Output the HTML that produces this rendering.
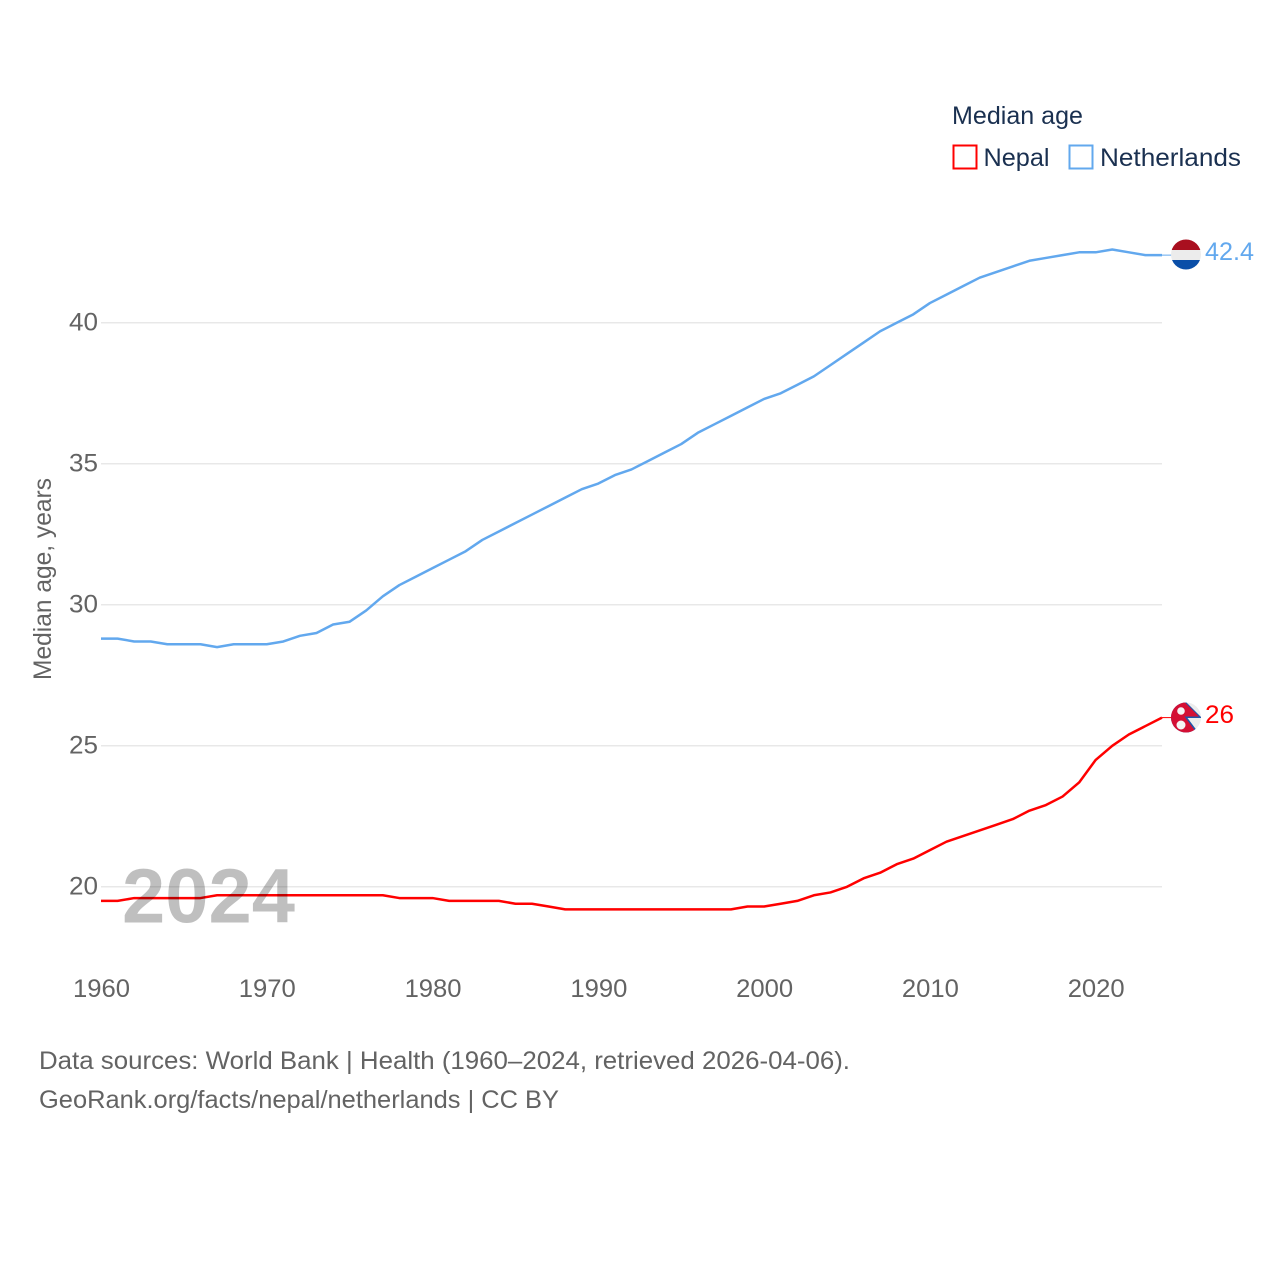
<!DOCTYPE html>
<html lang="en">
<head>
<meta charset="utf-8">
<title>Median age: Nepal and Netherlands</title>
<style>
html,body{margin:0;padding:0;background:#fff;width:1280px;height:1280px;overflow:hidden}
svg{display:block}
text{font-family:"Liberation Sans",sans-serif}
</style>
</head>
<body>
<svg id="chart" width="1280" height="1280" viewBox="0 0 1280 1280" xmlns="http://www.w3.org/2000/svg">
  <defs>
    <clipPath id="clip-nl"><circle cx="1186" cy="254.5" r="15"/></clipPath>
    <clipPath id="clip-np"><circle cx="1186" cy="717.5" r="15"/></clipPath>
  </defs>
  <g id="grid"></g>
  <g id="yticks"></g>
  <g id="xticks"></g>
  <text transform="translate(51,680) rotate(-90)" font-size="25" fill="#636363" textLength="202" lengthAdjust="spacingAndGlyphs">Median age, years</text>

  <g id="lines"></g>

  <text x="122" y="922.500" font-size="77" font-weight="700" fill="#000" fill-opacity="0.25" textLength="173" lengthAdjust="spacingAndGlyphs">2024</text>

  <g clip-path="url(#clip-nl)">
    <rect x="1171" y="239" width="30" height="11" fill="#a90f1f"/>
    <rect x="1171" y="250" width="30" height="10" fill="#ececec"/>
    <rect x="1171" y="260" width="30" height="10" fill="#0a4ea8"/>
  </g>
  <g clip-path="url(#clip-np)">
    <rect x="1171" y="702" width="30" height="31" fill="#ececec"/>
    <path d="M1168 701 L1185 701 L1202 718 L1187.500 718 L1199.500 734 L1168 734 Z" fill="#1f55a8"/>
    <path d="M1168 701 L1183.500 701 L1199 716.500 L1184.500 716.500 L1197.500 734 L1168 734 Z" fill="#d40f34"/>
    <circle cx="1181" cy="711" r="3.800" fill="#f4f4f4"/>
    <circle cx="1181" cy="725" r="4.500" fill="#f4f4f4"/>
  </g>

  <text x="1205" y="260" font-size="25" fill="#62a8ee" textLength="49" lengthAdjust="spacingAndGlyphs">42.4</text>
  <text x="1205" y="723" font-size="25" fill="#ff0000" textLength="29" lengthAdjust="spacingAndGlyphs">26</text>

  <g>
    <text x="952" y="124" font-size="25" fill="#1a3050" textLength="131" lengthAdjust="spacingAndGlyphs">Median age</text>
    <rect x="953.500" y="145.500" width="23" height="23" fill="#fff" stroke="#ff0000" stroke-width="2"/>
    <text x="983.500" y="166" font-size="25" fill="#1a3050" textLength="66" lengthAdjust="spacingAndGlyphs">Nepal</text>
    <rect x="1069.500" y="145.500" width="23" height="23" fill="#fff" stroke="#62a8ee" stroke-width="2"/>
    <text x="1100" y="166" font-size="25" fill="#1a3050" textLength="141" lengthAdjust="spacingAndGlyphs">Netherlands</text>
  </g>

  <text x="39" y="1069" font-size="25" fill="#636363" textLength="811" lengthAdjust="spacingAndGlyphs">Data sources: World Bank | Health (1960–2024, retrieved 2026-04-06).</text>
  <text x="39" y="1108" font-size="25" fill="#636363" textLength="520" lengthAdjust="spacingAndGlyphs">GeoRank.org/facts/nepal/netherlands | CC BY</text>
</svg>
<script>
const years = [1960,1961,1962,1963,1964,1965,1966,1967,1968,1969,1970,1971,1972,1973,1974,1975,1976,1977,1978,1979,1980,1981,1982,1983,1984,1985,1986,1987,1988,1989,1990,1991,1992,1993,1994,1995,1996,1997,1998,1999,2000,2001,2002,2003,2004,2005,2006,2007,2008,2009,2010,2011,2012,2013,2014,2015,2016,2017,2018,2019,2020,2021,2022,2023,2024];
const netherlandsValues = [28.8,28.8,28.7,28.7,28.6,28.6,28.6,28.5,28.6,28.6,28.6,28.7,28.9,29.0,29.3,29.4,29.8,30.3,30.7,31.0,31.3,31.6,31.9,32.3,32.6,32.9,33.2,33.5,33.8,34.1,34.3,34.6,34.8,35.1,35.4,35.7,36.1,36.4,36.7,37.0,37.3,37.5,37.8,38.1,38.5,38.9,39.3,39.7,40.0,40.3,40.7,41.0,41.3,41.6,41.8,42.0,42.2,42.3,42.4,42.5,42.5,42.6,42.5,42.4,42.4];
const nepalValues = [19.5,19.5,19.6,19.6,19.6,19.6,19.6,19.7,19.7,19.7,19.7,19.7,19.7,19.7,19.7,19.7,19.7,19.7,19.6,19.6,19.6,19.5,19.5,19.5,19.5,19.4,19.4,19.3,19.2,19.2,19.2,19.2,19.2,19.2,19.2,19.2,19.2,19.2,19.2,19.3,19.3,19.4,19.5,19.7,19.8,20.0,20.3,20.5,20.8,21.0,21.3,21.6,21.8,22.0,22.2,22.4,22.7,22.9,23.2,23.7,24.5,25.0,25.4,25.7,26.0];
const yTickValues = [20,25,30,35,40];
const xTickValues = [1960,1970,1980,1990,2000,2010,2020];

const NS = 'http://www.w3.org/2000/svg';
function xScale(year){ return 101 + (year - 1960) * (1162 - 101) / 64; }
function yScale(value){ return 886.8 - (value - 20) * 28.2; }

const gridGroup = document.getElementById('grid');
const yGroup = document.getElementById('yticks');
const xGroup = document.getElementById('xticks');
const lineGroup = document.getElementById('lines');

yTickValues.forEach(function(v){
  const gl = document.createElementNS(NS,'line');
  gl.setAttribute('x1', 101);
  gl.setAttribute('x2', 1162);
  gl.setAttribute('y1', yScale(v));
  gl.setAttribute('y2', yScale(v));
  gl.setAttribute('stroke', '#e8e8e8');
  gl.setAttribute('stroke-width', '1.5');
  
  
  gridGroup.appendChild(gl);
  const t = document.createElementNS(NS,'text');
  t.setAttribute('x', 98);
  t.setAttribute('y', yScale(v) + 7.5);
  t.setAttribute('text-anchor', 'end');
  t.setAttribute('font-size', '25');
  t.setAttribute('fill', '#636363');
  t.setAttribute('textLength', '29');
  t.setAttribute('lengthAdjust', 'spacingAndGlyphs');
  t.textContent = v;
  
  
  yGroup.appendChild(t);
});

xTickValues.forEach(function(y){
  const t = document.createElementNS(NS,'text');
  t.setAttribute('x', xScale(y) + 0.5);
  t.setAttribute('y', 997);
  t.setAttribute('text-anchor', 'middle');
  t.setAttribute('font-size', '25');
  t.setAttribute('fill', '#636363');
  t.setAttribute('textLength', '57');
  t.setAttribute('lengthAdjust', 'spacingAndGlyphs');
  t.textContent = y;
  
  
  xGroup.appendChild(t);
});

function pointsFor(values){
  return values.map(function(v,i){ return xScale(years[i]).toFixed(2) + ',' + yScale(v).toFixed(2); }).join(' ');
}

const nlLine = document.createElementNS(NS,'polyline');
nlLine.setAttribute('points', pointsFor(netherlandsValues));
nlLine.setAttribute('fill', 'none');
nlLine.setAttribute('stroke', '#62a8ee');
nlLine.setAttribute('stroke-width', '2.5');
nlLine.setAttribute('stroke-linejoin', 'round');


lineGroup.appendChild(nlLine);

const npLine = document.createElementNS(NS,'polyline');
npLine.setAttribute('points', pointsFor(nepalValues));
npLine.setAttribute('fill', 'none');
npLine.setAttribute('stroke', '#ff0000');
npLine.setAttribute('stroke-width', '2.5');
npLine.setAttribute('stroke-linejoin', 'round');


lineGroup.appendChild(npLine);

const nlLeader = document.createElementNS(NS,'line');
nlLeader.setAttribute('x1', xScale(2024));
nlLeader.setAttribute('x2', 1172);
nlLeader.setAttribute('y1', yScale(netherlandsValues[netherlandsValues.length - 1]));
nlLeader.setAttribute('y2', yScale(netherlandsValues[netherlandsValues.length - 1]));
nlLeader.setAttribute('stroke', '#62a8ee');
nlLeader.setAttribute('stroke-width', '1');


lineGroup.appendChild(nlLeader);

const npLeader = document.createElementNS(NS,'line');
npLeader.setAttribute('x1', xScale(2024));
npLeader.setAttribute('x2', 1172);
npLeader.setAttribute('y1', yScale(nepalValues[nepalValues.length - 1]));
npLeader.setAttribute('y2', yScale(nepalValues[nepalValues.length - 1]));
npLeader.setAttribute('stroke', '#ff0000');
npLeader.setAttribute('stroke-width', '1');


lineGroup.appendChild(npLeader);
</script>
</body>
</html>
